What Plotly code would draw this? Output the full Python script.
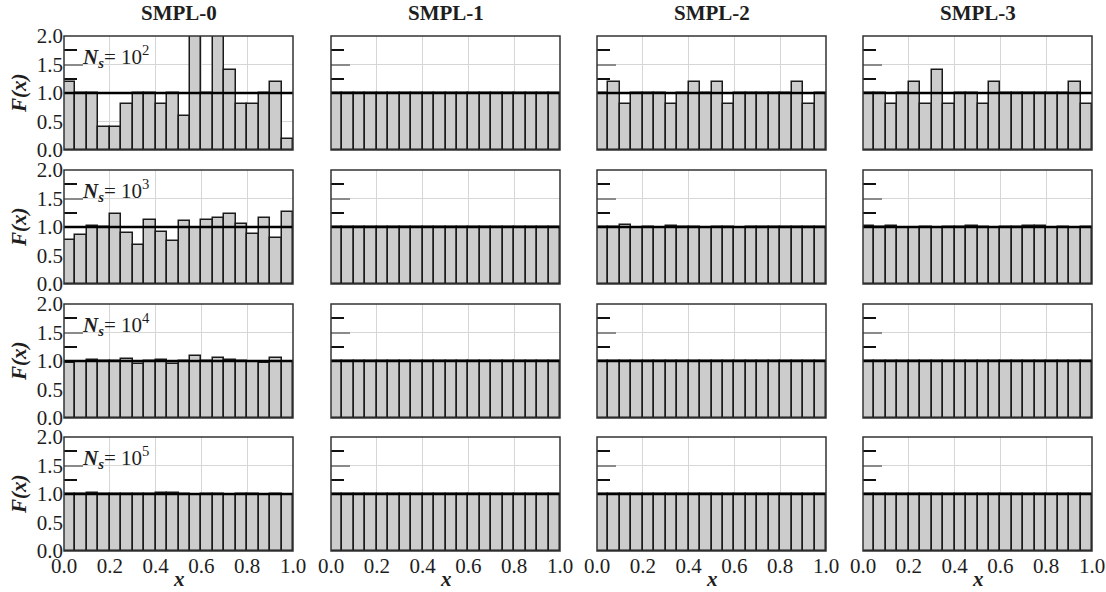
import numpy as np
import plotly.graph_objects as go

# ---------------------------------------------------------------------------
# Histogram data: normalised bin densities F(x) on 20 equal bins of [0, 1]
# ---------------------------------------------------------------------------
n_bins = 20
bin_edges = np.linspace(0.0, 1.0, n_bins + 1)
bin_centers = 0.5 * (bin_edges[:-1] + bin_edges[1:])
bin_width = bin_edges[1] - bin_edges[0]

samplers = ["SMPL-0", "SMPL-1", "SMPL-2", "SMPL-3"]
sample_exponents = [2, 3, 4, 5]

# SMPL-0 (plain pseudo-random)
smpl0_1e2 = [1.2, 1.0, 1.0, 0.4, 0.4, 0.8, 1.0, 1.0, 0.8, 1.0,
             0.6, 2.2, 1.0, 2.2, 1.4, 0.8, 0.8, 1.0, 1.2, 0.2]
smpl0_1e3 = [0.78, 0.86, 1.02, 1.00, 1.22, 0.90, 0.68, 1.12, 0.92, 0.76,
             1.10, 0.98, 1.12, 1.16, 1.22, 1.06, 0.88, 1.16, 0.80, 1.26]
smpl0_1e4 = [0.97, 0.99, 1.02, 1.00, 1.00, 1.03, 0.94, 1.00, 1.01, 0.94,
             1.00, 1.09, 1.00, 1.06, 1.01, 1.00, 0.99, 0.96, 1.05, 0.98]
smpl0_1e5 = [1.00, 1.00, 1.01, 1.00, 1.00, 1.00, 1.00, 1.00, 1.01, 1.01,
             1.00, 0.99, 1.00, 1.00, 0.99, 1.00, 1.00, 0.99, 1.00, 0.99]

# SMPL-1
smpl1_1e2 = [1.0] * 20
smpl1_1e3 = [1.0] * 20
smpl1_1e4 = [1.0] * 20
smpl1_1e5 = [1.0] * 20

# SMPL-2
smpl2_1e2 = [1.0, 1.2, 0.8, 1.0, 1.0, 1.0, 0.8, 1.0, 1.2, 1.0,
             1.2, 0.8, 1.0, 1.0, 1.0, 1.0, 1.0, 1.2, 0.8, 1.0]
smpl2_1e3 = [1.00, 1.00, 1.04, 0.98, 1.00, 0.98, 1.02, 1.00, 1.00, 0.98,
             1.00, 1.00, 0.98, 1.00, 1.00, 1.00, 1.00, 1.00, 1.00, 1.00]
smpl2_1e4 = [1.0] * 20
smpl2_1e5 = [1.0] * 20

# SMPL-3
smpl3_1e2 = [1.0, 1.0, 0.8, 1.0, 1.2, 0.8, 1.4, 0.8, 1.0, 1.0,
             0.8, 1.2, 1.0, 1.0, 1.0, 1.0, 1.0, 1.0, 1.2, 0.8]
smpl3_1e3 = [1.02, 1.00, 1.02, 0.98, 0.98, 1.00, 0.98, 1.00, 1.00, 1.02,
             1.00, 0.98, 1.00, 1.00, 1.02, 1.02, 0.98, 1.00, 0.98, 1.00]
smpl3_1e4 = [1.0] * 20
smpl3_1e5 = [1.0] * 20

# grid[row][col] -> densities; rows = sample size, cols = sampler
grid = [
    [smpl0_1e2, smpl1_1e2, smpl2_1e2, smpl3_1e2],
    [smpl0_1e3, smpl1_1e3, smpl2_1e3, smpl3_1e3],
    [smpl0_1e4, smpl1_1e4, smpl2_1e4, smpl3_1e4],
    [smpl0_1e5, smpl1_1e5, smpl2_1e5, smpl3_1e5],
]

x_tick_vals = [0.0, 0.2, 0.4, 0.6, 0.8, 1.0]
y_tick_vals = [0.0, 0.5, 1.0, 1.5, 2.0]

# ---------------------------------------------------------------------------
# Layout geometry (pixels)
# ---------------------------------------------------------------------------
W, H = 1106, 592
col_left = [64, 331, 597, 863]
col_w = 229
row_top = [36, 170, 304, 437]
row_h = 114

SERIF = "Liberation Serif, Times New Roman, serif"
TEXT = "#1e1e1e"
GRID = "#d6d6d6"
TICK_SIZE = 21

fig = go.Figure()
layout = dict(
    width=W, height=H,
    margin=dict(l=0, r=0, t=0, b=0, pad=0, autoexpand=False),
    paper_bgcolor="white", plot_bgcolor="white",
    showlegend=False, bargap=0,
    font=dict(family=SERIF, size=TICK_SIZE, color=TEXT),
)
shapes, annotations = [], []

for r in range(4):
    for c in range(4):
        k = r * 4 + c + 1
        xa = "x" if k == 1 else f"x{k}"
        ya = "y" if k == 1 else f"y{k}"
        xkey = "xaxis" if k == 1 else f"xaxis{k}"
        ykey = "yaxis" if k == 1 else f"yaxis{k}"

        fig.add_trace(go.Bar(
            x=bin_centers, y=grid[r][c], width=bin_width,
            marker=dict(color="#cccccc", line=dict(color="#1a1a1a", width=1.5)),
            xaxis=xa, yaxis=ya, hoverinfo="x+y",
        ))

        x0 = col_left[c] / W
        x1 = (col_left[c] + col_w) / W
        y1 = 1 - row_top[r] / H
        y0 = 1 - (row_top[r] + row_h) / H

        layout[xkey] = dict(
            domain=[x0, x1], anchor=ya, range=[0, 1], automargin=False,
            tickvals=x_tick_vals, ticktext=[f"{v:.1f}" for v in x_tick_vals],
            showticklabels=(r == 3), ticks="", ticklabelstandoff=0,
            showgrid=True, gridcolor=GRID, gridwidth=1,
            zeroline=False, showline=False, layer="below traces",
            tickfont=dict(family=SERIF, size=TICK_SIZE, color=TEXT),
        )
        layout[ykey] = dict(
            domain=[y0, y1], anchor=xa, range=[0, 2], automargin=False,
            tickvals=y_tick_vals, ticktext=[f"{v:.1f}" for v in y_tick_vals],
            showticklabels=(c == 0), ticklabelstandoff=0,
            ticks="inside", ticklen=19, tickwidth=1.5, tickcolor="#8a8a8a",
            minor=dict(ticks="inside", ticklen=13, tickwidth=1.5,
                       tickcolor="#111111", dtick=0.25, showgrid=False),
            showgrid=True, gridcolor=GRID, gridwidth=1,
            zeroline=False, showline=False, layer="below traces",
            tickfont=dict(family=SERIF, size=TICK_SIZE, color=TEXT),
        )

        # reference level F(x) = 1
        shapes.append(dict(
            type="line", xref=f"{xa} domain", yref=ya,
            x0=0, x1=1, y0=1.0, y1=1.0,
            line=dict(color="black", width=2.5), layer="above",
        ))
        # panel frame
        shapes.append(dict(
            type="rect", xref=f"{xa} domain", yref=f"{ya} domain",
            x0=0, x1=1, y0=0, y1=1,
            line=dict(color="#333333", width=1.5), layer="above",
        ))

        if c == 0:
            annotations.append(dict(
                text=f"<b><i>N<sub>s</sub></i></b>= 10<sup>{sample_exponents[r]}</sup>",
                xref="paper", yref="paper",
                x=(col_left[0] + 16) / W, y=1 - (row_top[r] + 20) / H,
                xanchor="left", yanchor="middle", showarrow=False,
                font=dict(family=SERIF, size=21, color=TEXT),
            ))
            annotations.append(dict(
                text="<b><i>F(x)</i></b>", textangle=-90,
                xref="paper", yref="paper",
                x=19 / W, y=1 - (row_top[r] + row_h / 2) / H,
                xanchor="center", yanchor="middle", showarrow=False,
                font=dict(family=SERIF, size=21, color=TEXT),
            ))

for c, name in enumerate(samplers):
    cx = (col_left[c] + col_w / 2) / W
    annotations.append(dict(
        text=f"<b>{name}</b>", xref="paper", yref="paper",
        x=cx, y=1 - 13 / H, xanchor="center", yanchor="middle",
        showarrow=False, font=dict(family=SERIF, size=21, color=TEXT),
    ))
    annotations.append(dict(
        text="<b><i>x</i></b>", xref="paper", yref="paper",
        x=cx, y=1 - 579 / H, xanchor="center", yanchor="middle",
        showarrow=False, font=dict(family=SERIF, size=21, color=TEXT),
    ))

layout["shapes"] = shapes
layout["annotations"] = annotations
fig.update_layout(**layout)
fig.write_html("out.html")
